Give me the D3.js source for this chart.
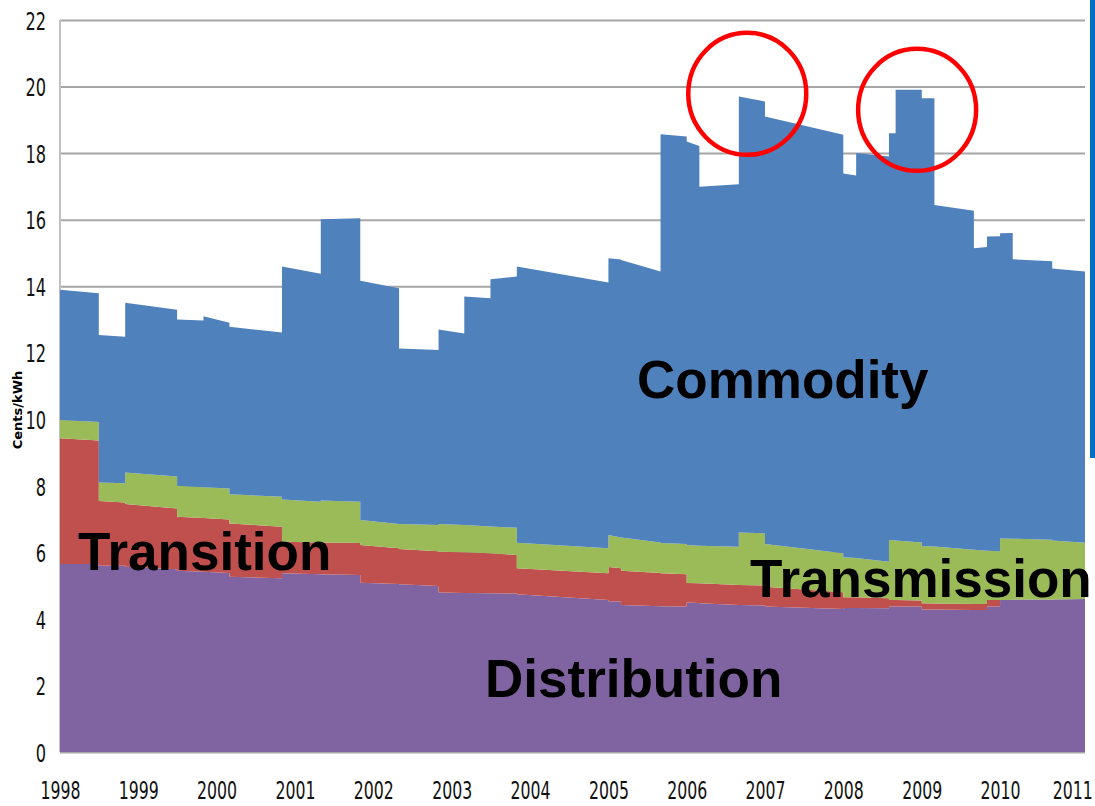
<!DOCTYPE html>
<html>
<head>
<meta charset="utf-8">
<script src="https://cdn.jsdelivr.net/npm/d3@7"></script>
<style>
    body { margin: 0; background: #fff; }
    svg { display: block; }
</style>
</head>
<body>
<div id="pic"></div>
<script>
//start month of each price period (a period runs until the next start)
var months = ["1998-01", "1998-07", "1998-11", "1999-07", "1999-11", "2000-03", "2000-11", "2001-05",
    "2001-11", "2002-05", "2002-11", "2003-03", "2003-07", "2003-11", "2005-01", "2005-03",
    "2005-09", "2006-01", "2006-03", "2006-09", "2007-01", "2008-01", "2008-03", "2008-08",
    "2008-09", "2009-01", "2009-03", "2009-09", "2009-11", "2010-01", "2010-03", "2010-09"];
var endMonth = "2011-02";

//cents/kWh at start and end of each period
var distribution = [[5.65, 5.65], [5.6, 5.6], [5.57, 5.49], [5.45, 5.42], [5.42, 5.38], [5.27, 5.22], [5.37, 5.34], [5.34, 5.32],
    [5.09, 5.05], [5.04, 4.99], [4.79, 4.78], [4.78, 4.77], [4.77, 4.76], [4.74, 4.57], [4.53, 4.52], [4.42, 4.38],
    [4.38, 4.37], [4.49, 4.48], [4.47, 4.42], [4.42, 4.4], [4.37, 4.3], [4.33, 4.33], [4.33, 4.32], [4.37, 4.37],
    [4.37, 4.37], [4.28, 4.28], [4.28, 4.27], [4.27, 4.27], [4.37, 4.37], [4.57, 4.57], [4.58, 4.58], [4.58, 4.6]];
var transition = [[3.78, 3.71], [1.94, 1.9], [1.88, 1.83], [1.62, 1.61], [1.61, 1.61], [1.6, 1.55], [0.95, 0.96], [0.96, 0.96],
    [1.13, 1.07], [1.06, 1.04], [1.23, 1.22], [1.22, 1.2], [1.2, 1.16], [0.78, 0.8], [1.03, 1.0], [1.03, 1.0],
    [0.99, 0.97], [0.59, 0.59], [0.6, 0.6], [0.6, 0.6], [0.6, 0.5], [0.32, 0.32], [0.32, 0.3], [0.2, 0.2],
    [0.2, 0.18], [0.19, 0.18], [0.18, 0.18], [0.18, 0.18], [0.2, 0.2], [0, 0], [0, 0], [0, 0]];
var transmission = [[0.55, 0.56], [0.56, 0.58], [0.95, 0.96], [0.93, 0.93], [0.93, 0.93], [0.88, 0.9], [1.27, 1.22], [1.26, 1.24],
    [0.75, 0.73], [0.75, 0.79], [0.83, 0.82], [0.82, 0.81], [0.81, 0.82], [0.77, 0.75], [0.96, 0.93], [1.0, 0.92],
    [0.91, 0.91], [1.14, 1.13], [1.13, 1.15], [1.58, 1.57], [1.28, 1.17], [1.2, 1.18], [1.18, 1.1], [1.8, 1.79],
    [1.79, 1.75], [1.72, 1.72], [1.72, 1.63], [1.63, 1.6], [1.48, 1.46], [1.85, 1.84], [1.83, 1.8], [1.78, 1.69]];
var commodity = [[3.91, 3.87], [4.43, 4.4], [5.1, 5.01], [5.0, 5.01], [5.14, 4.98], [5.03, 4.94], [7.0, 6.85], [8.45, 8.52],
    [7.19, 7.09], [5.28, 5.26], [5.85, 5.76], [6.87, 6.86], [7.43, 7.55], [8.3, 7.99], [8.32, 8.35], [8.34, 8.14],
    [12.29, 12.25], [12.13, 12.01], [10.79, 10.89], [13.1, 12.98], [12.85, 12.58], [11.54, 11.5], [12.17, 12.18], [12.23, 12.24],
    [13.54, 13.6], [13.46, 13.47], [10.26, 10.19], [9.06, 9.13], [9.44, 9.47], [9.17, 9.19], [8.4, 8.37], [8.17, 8.15]];

var seriesNames = ["Distribution", "Transition", "Transmission", "Commodity"];
var seriesColors = ["#8064A2", "#C0504D", "#9BBB59", "#4F81BD"];
var yTicks = [0, 2, 4, 6, 8, 10, 12, 14, 16, 18, 20, 22];
var yearTicks = [1998, 1999, 2000, 2001, 2002, 2003, 2004, 2005, 2006, 2007, 2008, 2009, 2010, 2011];

//circled price peaks: [month, cents/kWh]
var peaks = [["2006-10", 19.78], ["2008-12", 19.3]];

var width = 1095,
    height = 806,
    margin = { top: 20, right: 10, bottom: 54, left: 60 };

var tickFont = "'Liberation Sans Narrow', 'DejaVu Sans Condensed', sans-serif";

var parse = d3.timeParse("%Y-%m");

//two rows per period so jumps between periods are vertical
var rows = [];
months.forEach(function(m, i) {
    var start = parse(m),
        end = parse(i < months.length - 1 ? months[i + 1] : endMonth);
    [0, 1].forEach(function(k) {
        rows.push({
            date: k == 0 ? start : end,
            Distribution: distribution[i][k],
            Transition: transition[i][k],
            Transmission: transmission[i][k],
            Commodity: commodity[i][k]
        });
    });
});

var x = d3.scaleTime()
    .domain([parse(months[0]), parse(endMonth)])
    .range([margin.left, width - margin.right]);

var y = d3.scaleLinear()
    .domain([0, 22])
    .range([height - margin.bottom, margin.top]);

var svg = d3.select("#pic").append("svg")
    .attr("width", width)
    .attr("height", height);

svg.append("rect")
    .attr("width", width)
    .attr("height", height)
    .attr("fill", "#fff");

//horizontal gridlines and y labels
var yAxis = svg.append("g")
    .attr("transform", "translate(" + margin.left + ",0)")
    .call(d3.axisLeft(y)
        .tickValues(yTicks)
        .tickSize(-(width - margin.left - margin.right))
        .tickPadding(14));
yAxis.select(".domain").remove();
yAxis.selectAll(".tick line")
    .attr("stroke", "#a6a6a6")
    .attr("stroke-width", 2);
yAxis.selectAll(".tick text")
    .attr("dy", "0.36em")
    .attr("transform", "scale(1,1.42)")
    .style("font-family", tickFont)
    .style("font-size", "18px")
    .attr("fill", "#111");

//vertical axis line
svg.append("line")
    .attr("x1", margin.left).attr("x2", margin.left)
    .attr("y1", y(22)).attr("y2", y(0))
    .attr("stroke", "#c0c0c0")
    .attr("stroke-width", 2);

//stacked areas
var stack = d3.stack().keys(seriesNames);
var layers = stack(rows);

var area = d3.area()
    .x(function(d) { return x(d.data.date); })
    .y0(function(d) { return y(d[0]); })
    .y1(function(d) { return y(d[1]); });

svg.append("g")
    .selectAll("path")
    .data(layers)
    .enter().append("path")
    .attr("d", area)
    .attr("fill", function(d, i) { return seriesColors[i]; });

//x labels
var xAxis = svg.append("g")
    .attr("transform", "translate(0," + y(0) + ")")
    .call(d3.axisBottom(x)
        .tickValues(yearTicks.map(function(d) { return new Date(d, 0, 1); }))
        .tickFormat(d3.timeFormat("%Y"))
        .tickSize(0));
xAxis.select(".domain").remove();
xAxis.selectAll(".tick text")
    .attr("y", 32.5)
    .attr("dy", 0)
    .attr("transform", "scale(1,1.45)")
    .style("font-family", tickFont)
    .style("font-size", "17.5px")
    .attr("fill", "#111");
//last year label sits at the right edge, keep it inside
xAxis.selectAll(".tick text")
    .filter(function(d) { return d.getFullYear() == 2011; })
    .attr("text-anchor", "end")
    .attr("x", 14);

//y axis title
svg.append("text")
    .attr("transform", "translate(22,410) rotate(-90)")
    .attr("text-anchor", "middle")
    .style("font-family", "'DejaVu Sans', sans-serif")
    .style("font-weight", "bold")
    .style("font-size", "13px")
    .text("Cents/kWh");

//component labels
var labels = [
    { text: "Commodity", x: 637, y: 398 },
    { text: "Transition", x: 78, y: 570 },
    { text: "Transmission", x: 750, y: 597 },
    { text: "Distribution", x: 485, y: 697 }
];
svg.append("g")
    .selectAll("text")
    .data(labels)
    .enter().append("text")
    .attr("x", function(d) { return d.x; })
    .attr("y", function(d) { return d.y; })
    .style("font-family", "'Liberation Sans', Arial, sans-serif")
    .style("font-weight", "bold")
    .style("font-size", "53px")
    .attr("fill", "#000")
    .text(function(d) { return d.text; });

//red circles round the peaks
svg.append("g")
    .selectAll("ellipse")
    .data(peaks)
    .enter().append("ellipse")
    .attr("cx", function(d) { return x(parse(d[0])) + 2; })
    .attr("cy", function(d) { return y(d[1]); })
    .attr("rx", 59)
    .attr("ry", 61)
    .attr("fill", "none")
    .attr("stroke", "#ff0000")
    .attr("stroke-width", 4.5);

//slide edge bar on the right
svg.append("rect")
    .attr("x", 1090)
    .attr("y", 0)
    .attr("width", 5)
    .attr("height", 458)
    .attr("fill", "#0070c0");
</script>
</body>
</html>
